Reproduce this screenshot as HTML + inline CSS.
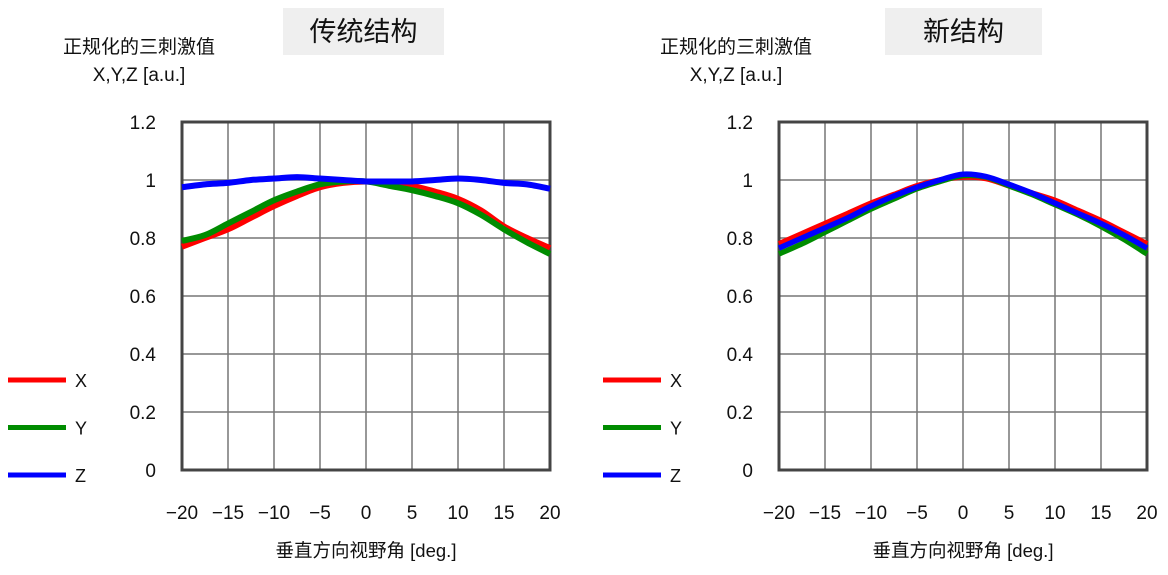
<!DOCTYPE html>
<html><head><meta charset="utf-8"><style>
body{margin:0;background:#fff;width:1168px;height:570px;overflow:hidden}
text{font-family:"Liberation Sans","Noto Sans CJK SC",sans-serif;fill:#111}
</style></head><body>
<svg id="svg" width="1168" height="570"></svg>
<script>
const xCats=[-20,-17.5,-15,-12.5,-10,-7.5,-5,-2.5,0,2.5,5,7.5,10,12.5,15,17.5,20];
const leftX=[0.77,0.80,0.83,0.87,0.91,0.945,0.975,0.99,0.995,0.99,0.98,0.96,0.935,0.895,0.84,0.80,0.765];
const leftY=[0.79,0.81,0.85,0.89,0.93,0.96,0.985,0.995,0.995,0.98,0.965,0.945,0.92,0.88,0.83,0.785,0.745];
const leftZ=[0.975,0.985,0.99,1.0,1.005,1.01,1.005,1.0,0.995,0.995,0.995,1.0,1.005,1.0,0.99,0.985,0.97];
const rightX=[0.78,0.815,0.85,0.885,0.92,0.95,0.98,1.0,1.01,1.005,0.98,0.955,0.93,0.895,0.86,0.82,0.78];
const rightY=[0.745,0.78,0.82,0.86,0.90,0.935,0.97,0.995,1.015,1.01,0.98,0.95,0.915,0.88,0.84,0.795,0.745];
const rightZ=[0.765,0.80,0.835,0.87,0.91,0.945,0.975,1.0,1.02,1.012,0.985,0.955,0.92,0.885,0.85,0.81,0.765];
const yTicks=[0,0.2,0.4,0.6,0.8,1,1.2];
const yTickLabels=["0","0.2","0.4","0.6","0.8","1","1.2"];
const xTicks=[-20,-15,-10,-5,0,5,10,15,20];
const xTickLabels=["−20","−15","−10","−5","0","5","10","15","20"];
const svg=document.getElementById('svg');
const NS='http://www.w3.org/2000/svg';
function mk(tag,attrs,parent){const e=document.createElementNS(NS,tag);for(const k in attrs)e.setAttribute(k,attrs[k]);(parent||svg).appendChild(e);return e;}
function txt(s,x,y,size,anchor,name){const t=mk('text',{x:x,y:y,'font-size':size,'text-anchor':anchor||'middle'});t.textContent=s;

return t;}
function smooth(pts){let d='M'+pts[0][0]+','+pts[0][1];for(let i=0;i<pts.length-1;i++){const p0=pts[Math.max(0,i-1)],p1=pts[i],p2=pts[i+1],p3=pts[Math.min(pts.length-1,i+2)];
d+=' C'+(p1[0]+(p2[0]-p0[0])/6)+','+(p1[1]+(p2[1]-p0[1])/6)+' '+(p2[0]-(p3[0]-p1[0])/6)+','+(p2[1]-(p3[1]-p1[1])/6)+' '+p2[0]+','+p2[1];}return d;}
function panel(id,x0,x1,title,tbx,tbw,series,sw,legX){
 const y0=470,y1=122;
 const sx=v=>x0+(v+20)/40*(x1-x0), sy=v=>y0-v/1.2*(y0-y1);
 const g=mk('g',{});
 
 
 const tb=mk('rect',{x:tbx,y:8,width:tbw,height:47,fill:'#efefef'},g);
 
 
 const tt=txt(title,tbx+tbw/2,41,27,'middle',id+'-title');g.appendChild(tt);
 g.appendChild(txt('正规化的三刺激值',x0-43,53,19,'middle',id+'-y-axis-title'));
 g.appendChild(txt('X,Y,Z [a.u.]',x0-43,81,19,'middle',id+'-y-axis-unit'));
 xTicks.forEach((v,i)=>{const l=mk('line',{x1:sx(v),x2:sx(v),y1:y1,y2:y0,stroke:'#777','stroke-width':1.5},g);
 
 
 g.appendChild(txt(xTickLabels[i],sx(v),519,19,'middle','x-tick-label'));});
 yTicks.forEach((v,i)=>{const l=mk('line',{x1:x0,x2:x1,y1:sy(v),y2:sy(v),stroke:'#777','stroke-width':1.5},g);
 
 
 g.appendChild(txt(yTickLabels[i],x0-26,sy(v)+7,19,'end','y-tick-label'));});
 const fr=mk('rect',{x:x0,y:y1,width:x1-x0,height:y0-y1,fill:'none',stroke:'#444','stroke-width':3},g);
 
 
 g.appendChild(txt('垂直方向视野角 [deg.]',(x0+x1)/2,557,18.5,'middle',id+'-x-axis-title'));
 series.forEach((s,k)=>{const p=mk('path',{d:smooth(xCats.map((c,i)=>[sx(c),sy(s.v[i])])),fill:'none',stroke:s.c,'stroke-width':sw,'stroke-linejoin':'round'},g);
 
 
 const ly=380+k*47.5;
 const ll=mk('line',{x1:legX,x2:legX+58,y1:ly,y2:ly,stroke:s.c,'stroke-width':5},g);
 
 
 g.appendChild(txt(s.n,legX+67,ly+7,18,'start',id+'-legend-label-'+s.n));});
}
panel('left',182,550,'传统结构',283,161,[{n:'X',c:'#ff0000',v:leftX},{n:'Y',c:'#008c00',v:leftY},{n:'Z',c:'#0000ff',v:leftZ}],6,8);
panel('right',779,1147,'新结构',885,157,[{n:'X',c:'#ff0000',v:rightX},{n:'Y',c:'#008c00',v:rightY},{n:'Z',c:'#0000ff',v:rightZ}],5.5,603);
</script>
</body></html>
